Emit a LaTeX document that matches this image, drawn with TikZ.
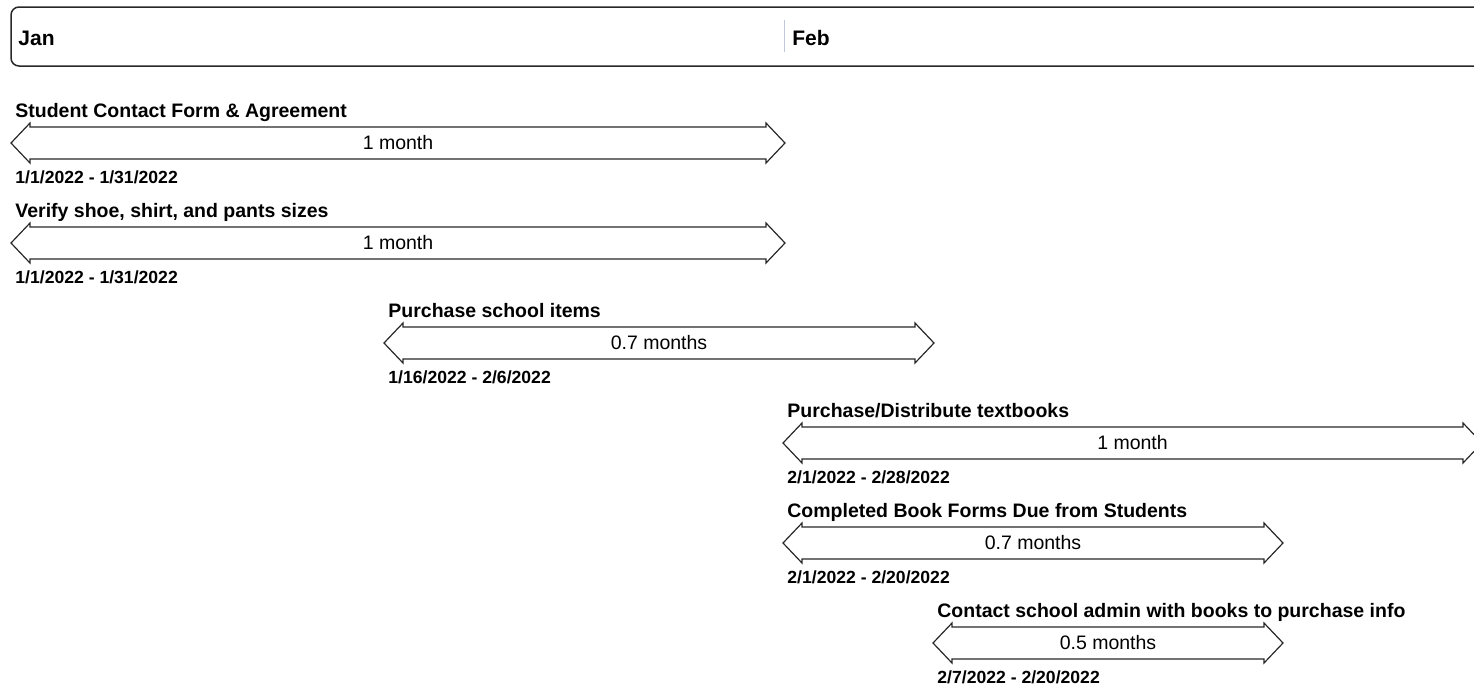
\documentclass[tikz,border=0pt]{standalone}
\usepackage{fontspec}
\setmainfont{Liberation Sans}
\usetikzlibrary{positioning}
\definecolor{edge}{RGB}{40,40,40}
\definecolor{sep}{RGB}{190,200,218}

% double-headed bar: name, start x, end x, centre y, duration
\newcommand{\ganttbar}[5]{%
  \draw[bar] (#2,#4) -- ({#2+19},{#4-20}) -- ({#2+19},{#4-16}) -- ({#3-19},{#4-16})
    -- ({#3-19},{#4-20}) -- (#3,#4) -- ({#3-19},{#4+20}) -- ({#3-19},{#4+16})
    -- ({#2+19},{#4+16}) -- ({#2+19},{#4+20}) -- cycle;
  \coordinate (#1) at (#2,#4);
  \node[dur] (#1dur) at ({(#2+#3)/2},#4) {#5};}

\begin{document}
\begin{tikzpicture}[
      x=0.5pt, y=-0.5pt,
      hdr/.style={font=\fontsize{10.5}{12}\selectfont\bfseries, anchor=base west, inner sep=0pt},
      bar/.style={draw=edge, line width=0.6pt, line join=miter},
      dur/.style={font=\fontsize{9.75}{11}\selectfont, inner sep=0pt},
      task/.style={font=\fontsize{9.75}{11}\selectfont\bfseries, anchor=base west, inner sep=0pt},
      span/.style={font=\fontsize{8.8}{10}\selectfont\bfseries, anchor=base west, inner sep=0pt}
    ]
      \useasboundingbox (0,0) rectangle (1474,687);

      % month header
      \draw[edge, line width=0.75pt, rounded corners=4pt] (11,7) rectangle (1500,66);
      \coordinate (sepTop) at (784,20);
      \coordinate (sepBot) at (784,52);
      \draw[sep, line width=0.5pt] (sepTop) -- (sepBot);
      \node[hdr] (jan) at (18,45) {Jan};
      \node[hdr] (feb) at (792,45) {Feb};

      % bars
      \ganttbar{bar1}{11}{785}{143}{1 month}
      \ganttbar{bar2}{11}{785}{243}{1 month}
      \ganttbar{bar3}{384}{934}{343}{0.7 months}
      \ganttbar{bar4}{783}{1482}{443}{1 month}
      \ganttbar{bar5}{783}{1283}{543}{0.7 months}
      \ganttbar{bar6}{933}{1283}{643}{0.5 months}

      % task names
      \node[task] (task1) at ([xshift=2pt, yshift=13pt]bar1) {Student Contact Form \& Agreement};
      \node[task] (task2) at ([xshift=2pt, yshift=13pt]bar2) {Verify shoe, shirt, and pants sizes};
      \node[task] (task3) at ([xshift=2pt, yshift=13pt]bar3) {Purchase school items};
      \node[task] (task4) at ([xshift=2pt, yshift=13pt]bar4) {Purchase/Distribute textbooks};
      \node[task] (task5) at ([xshift=2pt, yshift=13pt]bar5) {Completed Book Forms Due from Students};
      \node[task] (task6) at ([xshift=2pt, yshift=13pt]bar6) {Contact school admin with books to purchase info};

      % date ranges
      \node[span] (date1) at ([xshift=2pt, yshift=-20pt]bar1) {1/1/2022 - 1/31/2022};
      \node[span] (date2) at ([xshift=2pt, yshift=-20pt]bar2) {1/1/2022 - 1/31/2022};
      \node[span] (date3) at ([xshift=2pt, yshift=-20pt]bar3) {1/16/2022 - 2/6/2022};
      \node[span] (date4) at ([xshift=2pt, yshift=-20pt]bar4) {2/1/2022 - 2/28/2022};
      \node[span] (date5) at ([xshift=2pt, yshift=-20pt]bar5) {2/1/2022 - 2/20/2022};
      \node[span] (date6) at ([xshift=2pt, yshift=-20pt]bar6) {2/7/2022 - 2/20/2022};
    \end{tikzpicture}
\end{document}
